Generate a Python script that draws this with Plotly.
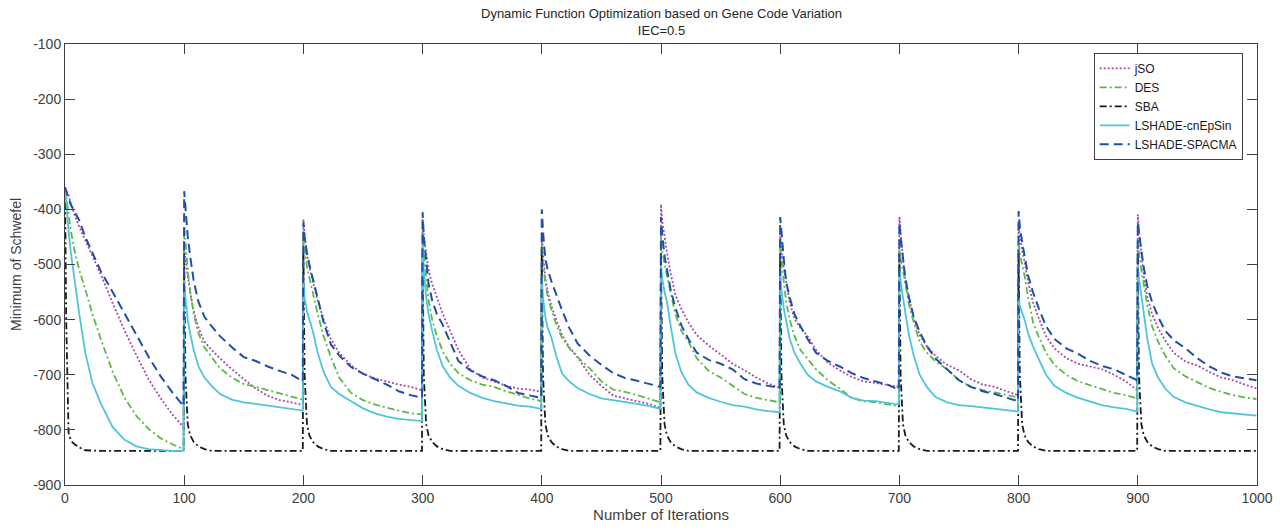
import plotly.graph_objects as go

# Offsets (iterations) within each 100-iteration environment segment
OFFSETS = [0, 1, 3, 5, 8, 12, 17, 23, 30, 40, 50, 60, 70, 80, 90, 99.5]
SEGMENT_STARTS = [0, 100, 200, 300, 400, 500, 600, 700, 800, 900]

JSO = [
    [-360, -365, -375, -390, -410, -432, -456, -485, -518, -570, -620, -665, -708, -742, -772, -795],
    [-470, -490, -520, -550, -585, -615, -640, -655, -670, -690, -708, -725, -738, -746, -750, -755],
    [-418, -445, -480, -505, -532, -565, -600, -635, -660, -683, -698, -707, -712, -718, -722, -728],
    [-418, -445, -480, -510, -535, -560, -590, -620, -655, -690, -705, -712, -720, -725, -727, -731],
    [-441, -480, -525, -550, -575, -600, -628, -650, -668, -700, -720, -738, -743, -747, -753, -760],
    [-391, -420, -450, -478, -515, -555, -580, -605, -628, -647, -663, -680, -692, -705, -716, -724],
    [-441, -470, -505, -532, -570, -598, -615, -630, -655, -678, -692, -704, -712, -715, -718, -722],
    [-414, -445, -490, -530, -562, -598, -628, -648, -665, -682, -692, -708, -718, -722, -730, -737],
    [-424, -450, -475, -495, -532, -568, -598, -630, -652, -670, -680, -685, -690, -700, -712, -728],
    [-409, -440, -485, -520, -560, -590, -615, -638, -660, -676, -683, -695, -705, -710, -718, -725],
]

DES = [
    [-360, -375, -405, -440, -475, -510, -545, -590, -635, -695, -742, -775, -798, -815, -826, -835],
    [-430, -460, -510, -550, -590, -625, -650, -668, -688, -705, -717, -722, -728, -734, -740, -745],
    [-441, -470, -505, -525, -550, -590, -630, -668, -705, -733, -746, -754, -760, -765, -770, -772],
    [-441, -480, -530, -565, -600, -630, -658, -680, -697, -710, -718, -722, -730, -737, -743, -748],
    [-460, -495, -535, -558, -582, -608, -633, -652, -668, -688, -712, -727, -731, -737, -743, -750],
    [-448, -475, -500, -518, -550, -590, -620, -640, -670, -693, -705, -720, -735, -742, -746, -750],
    [-454, -490, -530, -568, -600, -630, -655, -672, -690, -710, -725, -742, -748, -750, -754, -757],
    [-472, -490, -510, -535, -572, -605, -640, -660, -675, -690, -710, -722, -728, -732, -737, -741],
    [-460, -480, -500, -520, -560, -604, -632, -660, -682, -700, -712, -719, -727, -733, -737, -743],
    [-454, -480, -510, -535, -575, -612, -640, -665, -688, -703, -714, -724, -731, -737, -741, -744],
]

SBA = [
    [-360, -600, -805, -820, -826, -832, -837, -838, -838, -838, -838, -838, -838, -838, -838, -838],
    [-480, -700, -790, -810, -822, -830, -835, -838, -838, -838, -838, -838, -838, -838, -838, -838],
    [-480, -700, -790, -810, -822, -830, -835, -838, -838, -838, -838, -838, -838, -838, -838, -838],
    [-480, -700, -790, -810, -822, -830, -835, -838, -838, -838, -838, -838, -838, -838, -838, -838],
    [-480, -700, -790, -810, -822, -830, -835, -838, -838, -838, -838, -838, -838, -838, -838, -838],
    [-480, -700, -790, -810, -822, -830, -835, -838, -838, -838, -838, -838, -838, -838, -838, -838],
    [-480, -700, -790, -810, -822, -830, -835, -838, -838, -838, -838, -838, -838, -838, -838, -838],
    [-480, -700, -790, -810, -822, -830, -835, -838, -838, -838, -838, -838, -838, -838, -838, -838],
    [-480, -700, -790, -810, -822, -830, -835, -838, -838, -838, -838, -838, -838, -838, -838, -838],
    [-480, -700, -790, -810, -822, -830, -835, -838, -838, -838, -838, -838, -838, -838, -838, -838],
]

CNEPSIN = [
    [-360, -390, -440, -480, -530, -590, -660, -715, -752, -795, -818, -830, -835, -837, -838, -838],
    [-530, -560, -600, -625, -655, -685, -705, -720, -735, -745, -750, -753, -756, -760, -763, -765],
    [-532, -560, -585, -600, -622, -660, -695, -722, -735, -748, -761, -770, -776, -780, -782, -784],
    [-466, -510, -560, -590, -620, -655, -685, -705, -720, -733, -742, -748, -752, -756, -758, -762],
    [-520, -560, -595, -615, -632, -665, -698, -712, -724, -735, -743, -746, -749, -753, -757, -762],
    [-502, -525, -550, -568, -610, -660, -695, -718, -732, -742, -749, -755, -758, -763, -766, -768],
    [-514, -545, -580, -604, -635, -660, -680, -700, -712, -722, -730, -742, -747, -748, -751, -754],
    [-508, -530, -560, -585, -628, -665, -700, -722, -740, -750, -755, -757, -759, -761, -764, -767],
    [-562, -575, -588, -600, -625, -648, -672, -700, -720, -733, -742, -749, -755, -759, -762, -767],
    [-502, -525, -555, -585, -635, -680, -705, -725, -740, -750, -757, -763, -768, -770, -772, -774],
]

SPACMA = [
    [-360, -368, -380, -392, -405, -420, -450, -480, -512, -550, -590, -628, -667, -702, -732, -757],
    [-367, -400, -450, -485, -530, -568, -595, -612, -630, -650, -668, -675, -685, -693, -700, -712],
    [-424, -450, -480, -500, -526, -565, -605, -645, -665, -686, -698, -708, -718, -730, -737, -742],
    [-405, -450, -500, -535, -565, -590, -610, -640, -675, -692, -703, -710, -720, -733, -738, -742],
    [-400, -440, -490, -510, -530, -555, -583, -615, -643, -665, -682, -697, -706, -711, -716, -722],
    [-414, -445, -485, -512, -545, -578, -610, -635, -660, -673, -680, -690, -708, -716, -720, -724],
    [-414, -445, -490, -532, -560, -590, -612, -635, -660, -675, -685, -697, -706, -712, -718, -727],
    [-424, -450, -490, -525, -560, -595, -622, -648, -670, -690, -710, -722, -730, -735, -742, -748],
    [-403, -430, -460, -485, -520, -550, -580, -612, -635, -652, -662, -675, -684, -690, -701, -710],
    [-424, -445, -475, -505, -540, -568, -595, -620, -637, -652, -670, -685, -696, -703, -707, -710],
]

X_TICKS = [0, 100, 200, 300, 400, 500, 600, 700, 800, 900, 1000]
Y_TICKS = [-900, -800, -700, -600, -500, -400, -300, -200, -100]
Y_TICK_TEXT = ["-900", "-800", "-700", "-600", "-500", "-400", "-300", "-200", "-100"]

x_all = [s + o for s in SEGMENT_STARTS for o in OFFSETS]

def flat(series):
    return [v for seg in series for v in seg]

traces = [
    ("jSO", JSO, "#A54BB2", "2px,2px", 1.8),
    ("DES", DES, "#5CB944", "7px,3px,2px,3px", 1.8),
    ("SBA", SBA, "#1a1a1a", "7px,3px,2px,3px", 1.8),
    ("LSHADE-cnEpSin", CNEPSIN, "#4FC6D8", "solid", 1.8),
    ("LSHADE-SPACMA", SPACMA, "#1F4FA6", "9px,5px", 2.0),
]

FONT = "Liberation Sans, Arial, Helvetica, sans-serif"

fig = go.Figure()
for name, data, color, dash, w in traces:
    fig.add_trace(go.Scatter(
        x=x_all, y=flat(data), mode="lines", name=name,
        line=dict(color=color, dash=dash, width=w),
    ))

axis_common = dict(
    showline=True, linecolor="#404040", linewidth=1, mirror="ticks",
    ticks="inside", ticklen=10, tickcolor="#404040", tickwidth=1,
    showgrid=False, zeroline=False,
    tickfont=dict(family=FONT, size=14, color="#404040"),
)

fig.update_layout(
    width=1287, height=531,
    margin=dict(l=65, r=30, t=44, b=44),
    paper_bgcolor="white", plot_bgcolor="white",
    font=dict(family=FONT, color="#262626"),
    xaxis=dict(range=[0, 1000], tickvals=X_TICKS,
               title=dict(text="Number of Iterations", font=dict(size=15, color="#404040"), standoff=3),
               **axis_common),
    yaxis=dict(range=[-900, -100], tickvals=Y_TICKS, ticktext=Y_TICK_TEXT,
               title=dict(text="Minimum of Schwefel", font=dict(size=14, color="#404040"), standoff=8),
               **axis_common),
    legend=dict(
        x=0.988, y=0.98, xanchor="right", yanchor="top",
        bgcolor="white", bordercolor="#404040", borderwidth=1,
        font=dict(size=12, color="#1a1a1a"),
        itemwidth=30, tracegroupgap=0,
    ),
    showlegend=True,
    annotations=[dict(
        text="Dynamic Function Optimization based on Gene Code Variation<br>IEC=0.5",
        xref="paper", yref="paper", x=0.5, y=1, xanchor="center", yanchor="bottom",
        yshift=4, showarrow=False, align="center",
        font=dict(family=FONT, size=13, color="#262626"),
    )],
)

fig.write_html("out.html")
